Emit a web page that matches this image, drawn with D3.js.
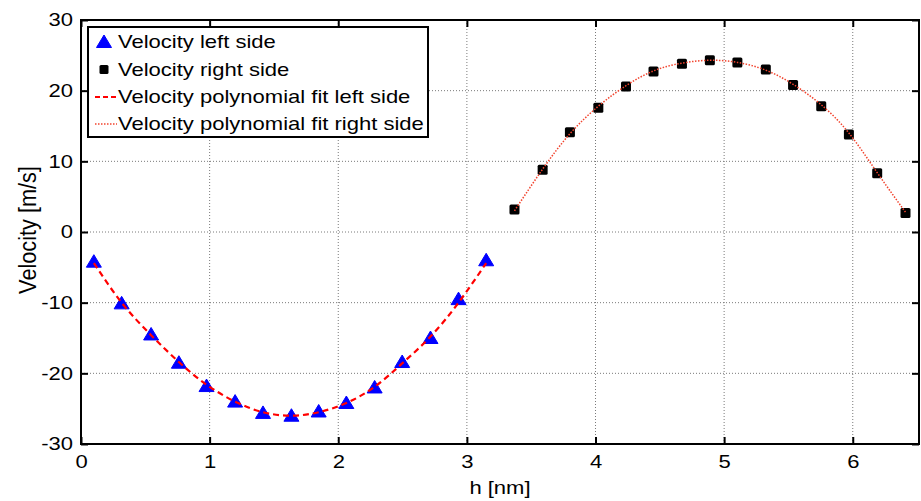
<!DOCTYPE html>
<html>
<head>
<meta charset="utf-8">
<script src="https://cdn.jsdelivr.net/npm/d3@7"></script>
<style>
  html, body { margin: 0; padding: 0; background: #fff; }
  svg { display: block; font-family: "Liberation Sans", Arial, sans-serif; }
</style>
</head>
<body>
<svg id="chart" width="921" height="501"></svg>
<script>
// Measured velocity on both sides of the channel
const hLeft = [0.10, 0.316, 0.545, 0.761, 0.976, 1.198, 1.415, 1.636, 1.848, 2.063, 2.283, 2.497, 2.717, 2.935, 3.150];
const velLeft = [-4.2, -10.1, -14.5, -18.5, -21.8, -24.0, -25.6, -26.0, -25.4, -24.2, -22.0, -18.4, -15.0, -9.5, -4.0];
const fitLeft = [-4.4, -10.0, -14.6, -18.4, -21.6, -24.0, -25.5, -26.0, -25.5, -24.2, -21.9, -18.6, -14.8, -10.0, -4.4];

const hRight = [3.370, 3.589, 3.801, 4.022, 4.237, 4.451, 4.672, 4.889, 5.103, 5.324, 5.536, 5.755, 5.970, 6.190, 6.410];
const velRight = [3.2, 8.8, 14.1, 17.6, 20.6, 22.7, 23.8, 24.3, 24.0, 23.0, 20.8, 17.8, 13.8, 8.3, 2.7];
const fitRight = [3.0, 8.9, 13.9, 17.8, 20.7, 22.8, 23.9, 24.3, 24.0, 22.9, 20.9, 18.0, 14.0, 8.4, 2.8];

const xTicks = [0, 1, 2, 3, 4, 5, 6];
const yTicks = [-30, -20, -10, 0, 10, 20, 30];
const legendLabels = ["Velocity left side", "Velocity right side",
                      "Velocity polynomial fit left side", "Velocity polynomial fit right side"];

const svg = d3.select("#chart");
const plot = { left: 81, right: 919, top: 20, bottom: 444 };
const fontSize = "18.5px";
const stretch = 1.19; // text is drawn horizontally widened

const x = d3.scaleLinear().domain([0, 6.515]).range([plot.left, plot.right]);
const y = d3.scaleLinear().domain([-30, 30]).range([plot.bottom, plot.top]);
const fmt = d => String(d); // plain hyphen for negatives

// widen a text element horizontally about its own anchor x
function widen(sel) {
  sel.attr("transform", function () {
    const ax = +(this.getAttribute("x") || 0);
    return `translate(${ax},0) scale(${stretch},1) translate(${-ax},0)`;
  });
}

// dotted grid
const grid = svg.append("g");
grid.selectAll("line.gx").data(xTicks.slice(1)).join("line")
  .attr("x1", d => x(d)).attr("x2", d => x(d))
  .attr("y1", plot.top).attr("y2", plot.bottom)
  .attr("stroke", "#7a7a7a").attr("stroke-width", 1).attr("stroke-dasharray", "1,2");
grid.selectAll("line.gy").data(yTicks.slice(1, -1)).join("line")
  .attr("x1", plot.left).attr("x2", plot.right)
  .attr("y1", d => y(d)).attr("y2", d => y(d))
  .attr("stroke", "#7a7a7a").attr("stroke-width", 1).attr("stroke-dasharray", "1,2");

// axes with inward ticks and labels
const tickLen = 7;
const axB = svg.append("g").attr("transform", `translate(0,${plot.bottom})`)
  .call(d3.axisBottom(x).tickValues(xTicks).tickSizeInner(-tickLen).tickSizeOuter(0).tickPadding(11).tickFormat(fmt));
const axT = svg.append("g").attr("transform", `translate(0,${plot.top})`)
  .call(d3.axisTop(x).tickValues(xTicks).tickSizeInner(-tickLen).tickSizeOuter(0).tickFormat(""));
const axL = svg.append("g").attr("transform", `translate(${plot.left},0)`)
  .call(d3.axisLeft(y).tickValues(yTicks).tickSizeInner(-tickLen).tickSizeOuter(0).tickPadding(8).tickFormat(fmt));
const axR = svg.append("g").attr("transform", `translate(${plot.right},0)`)
  .call(d3.axisRight(y).tickValues(yTicks).tickSizeInner(-tickLen).tickSizeOuter(0).tickFormat(""));
[axB, axT, axL, axR].forEach(a => {
  a.select(".domain").remove();
  a.selectAll(".tick line").attr("stroke", "#000").attr("stroke-width", 2);
  a.selectAll(".tick text").attr("fill", "#000").style("font-size", fontSize)
    .style("font-family", "'Liberation Sans', Arial, sans-serif");
});
axB.selectAll(".tick text").attr("dy", "0.71em").call(widen);
axL.selectAll(".tick text").call(widen);

// box
svg.append("rect")
  .attr("x", plot.left).attr("y", plot.top)
  .attr("width", plot.right - plot.left).attr("height", plot.bottom - plot.top)
  .attr("fill", "none").attr("stroke", "#000").attr("stroke-width", 2);

// axis titles
svg.append("text").attr("x", (plot.left + plot.right) / 2).attr("y", 494)
  .attr("text-anchor", "middle").style("font-size", fontSize).text("h [nm]").call(widen);
svg.append("text").attr("transform", "translate(36,230) scale(1.08,1) rotate(-90)")
  .attr("text-anchor", "middle").style("font-size", "21.7px").text("Velocity [m/s]");

const left = hLeft.map((h, i) => ({ h, v: velLeft[i], f: fitLeft[i] }));
const right = hRight.map((h, i) => ({ h, v: velRight[i], f: fitRight[i] }));

const triPath = "M0,-7L7.5,5.5L-7.5,5.5Z";

// markers
svg.append("g").selectAll("path").data(left).join("path")
  .attr("transform", d => `translate(${x(d.h)},${y(d.v)})`)
  .attr("d", triPath).attr("fill", "#0000ff").attr("stroke", "#0000ff").attr("stroke-width", 1)
  .attr("stroke-linejoin", "round");
svg.append("g").selectAll("rect").data(right).join("rect")
  .attr("x", d => x(d.h) - 5).attr("y", d => y(d.v) - 5)
  .attr("width", 10).attr("height", 10).attr("rx", 1.5)
  .attr("fill", "#000");

// polynomial fit curves
const fitLine = d3.line().x(d => x(d.h)).y(d => y(d.f)).curve(d3.curveNatural);
svg.append("path").datum(left).attr("d", fitLine)
  .attr("fill", "none").attr("stroke", "#ff0000").attr("stroke-width", 2.2)
  .attr("stroke-dasharray", "6,4");
svg.append("path").datum(right).attr("d", fitLine)
  .attr("fill", "none").attr("stroke", "#f2442e").attr("stroke-width", 1.5)
  .attr("stroke-dasharray", "1.5,1.5");

// legend
const lg = svg.append("g");
lg.append("rect").attr("x", 88).attr("y", 27).attr("width", 340).attr("height", 110)
  .attr("fill", "#fff").attr("stroke", "#000").attr("stroke-width", 2);
const rowY = [42, 69.5, 97, 124];
lg.append("path").attr("transform", `translate(104,${rowY[0]})`).attr("d", triPath)
  .attr("fill", "#0000ff").attr("stroke", "#0000ff").attr("stroke-linejoin", "round");
lg.append("rect").attr("x", 99.5).attr("y", rowY[1] - 4.5).attr("width", 9).attr("height", 9)
  .attr("rx", 1.5).attr("fill", "#000");
lg.append("line").attr("x1", 95).attr("x2", 117).attr("y1", rowY[2]).attr("y2", rowY[2])
  .attr("stroke", "#ff0000").attr("stroke-width", 2.2).attr("stroke-dasharray", "5,3");
lg.append("line").attr("x1", 95).attr("x2", 117).attr("y1", rowY[3]).attr("y2", rowY[3])
  .attr("stroke", "#f2442e").attr("stroke-width", 1.5).attr("stroke-dasharray", "1.5,1.5");
lg.selectAll("text").data(legendLabels).join("text")
  .attr("x", 118).attr("y", (d, i) => rowY[i]).attr("dy", "0.35em")
  .style("font-size", fontSize).attr("fill", "#000").text(d => d)
  .call(widen);
</script>
</body>
</html>
